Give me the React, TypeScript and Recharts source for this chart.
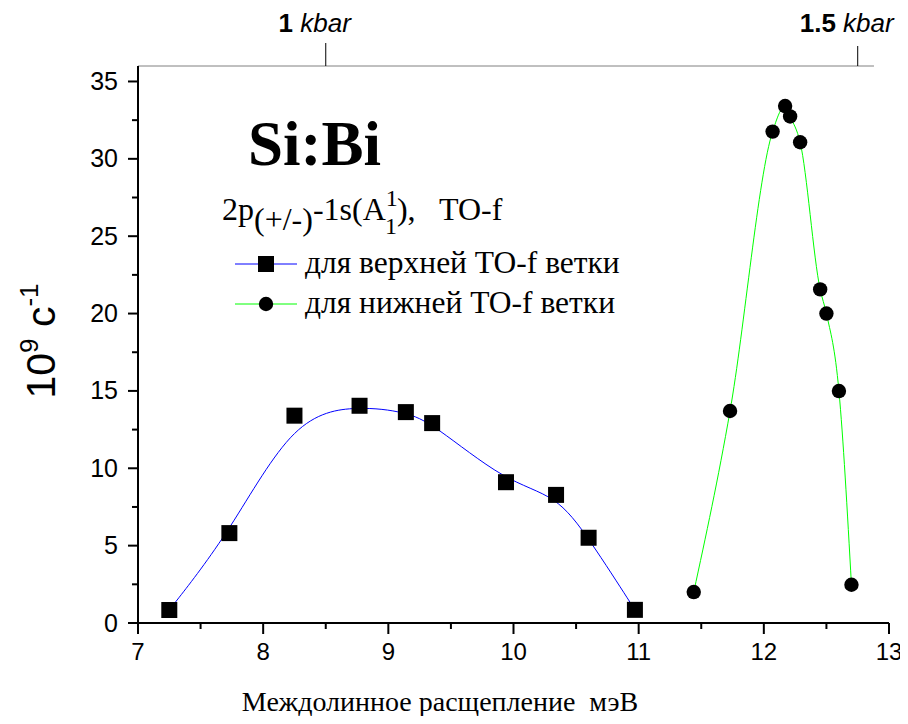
import React from 'react';
import { LineChart, Line, XAxis, YAxis, ReferenceLine } from 'recharts';

// Valley-orbit splitting (meV) and relaxation rate (10^9 s^-1)
const upperSplitting = [7.25, 7.73, 8.25, 8.77, 9.14, 9.35, 9.94, 10.34, 10.6, 10.97];
const upperRate = [0.84, 5.81, 13.4, 14.04, 13.63, 12.92, 9.1, 8.28, 5.51, 0.85];
const lowerSplitting = [11.44, 11.73, 12.07, 12.17, 12.21, 12.29, 12.45, 12.5, 12.6, 12.7];
const lowerRate = [2.0, 13.7, 31.76, 33.41, 32.74, 31.07, 21.56, 20.0, 14.99, 2.47];

const xTicks = [7, 7.5, 8, 8.5, 9, 9.5, 10, 10.5, 11, 11.5, 12, 12.5, 13];
const yTicks = [0, 2.5, 5, 7.5, 10, 12.5, 15, 17.5, 20, 22.5, 25, 27.5, 30, 32.5, 35];
const pressureTicks = [8.5, 12.75];
const pressureLabels = ['1', '1.5'];
const pressureAxisEnd = 12.88;

const upperData = upperSplitting.map((x, i) => ({ x, rate: upperRate[i] }));
const lowerData = lowerSplitting.map((x, i) => ({ x, rate: lowerRate[i] }));

const SANS = '"Liberation Sans", Arial, sans-serif';
const SERIF = '"Liberation Serif", "Times New Roman", serif';

const BottomTick = (props: any) => {
  const { x, y, payload } = props;
  const v = payload.value;
  const major = Number.isInteger(v);
  return (
    <g>
      <line x1={x} y1={y} x2={x} y2={y + (major ? 11 : 6)} stroke="#000" strokeWidth={2} />
      {major && (
        <text x={x} y={y + 37} textAnchor="middle" fontSize={24} fontFamily={SANS} fill="#000">
          {v}
        </text>
      )}
    </g>
  );
};

const LeftTick = (props: any) => {
  const { x, y, payload } = props;
  const v = payload.value;
  const major = Number.isInteger(v) && v % 5 === 0;
  return (
    <g>
      <line x1={x} y1={y} x2={x - (major ? 10 : 6)} y2={y} stroke="#000" strokeWidth={2} />
      {major && (
        <text x={x - 20} y={y + 8.5} textAnchor="end" fontSize={25} fontFamily={SANS} fill="#000">
          {v}
        </text>
      )}
    </g>
  );
};

const TopTick = (props: any) => {
  const { x, y, payload } = props;
  const idx = pressureTicks.indexOf(payload.value);
  const len = idx === 0 ? 23 : 20;
  return (
    <g>
      <line x1={x} y1={y} x2={x} y2={y - len} stroke="#000" strokeWidth={1} />
      <text x={x - 11} y={y - 34} textAnchor="middle" fontSize={26} fontFamily={SANS} fill="#000">
        <tspan fontWeight="bold">{pressureLabels[idx]}</tspan>
        <tspan fontStyle="italic"> kbar</tspan>
      </text>
    </g>
  );
};

const SquareDot = (p: any) => (
  <rect key={`sq-${p.index}`} x={p.cx - 8} y={p.cy - 8} width={16} height={16} fill="#000" />
);

const CircleDot = (p: any) => (
  <circle key={`ci-${p.index}`} cx={p.cx} cy={p.cy} r={7.2} fill="#000" />
);

export default function App() {
  const W = 908;
  const H = 724;
  return (
    <div
      style={{
        position: 'relative',
        width: W,
        height: H,
        marginLeft: -8,
        marginTop: -8,
        marginBottom: -8,
      }}
    >
      <LineChart width={W} height={H} margin={{ top: 0, right: 19, bottom: 0, left: 0 }}>
        <XAxis
          xAxisId="top"
          orientation="top"
          type="number"
          dataKey="x"
          domain={[7, 13]}
          ticks={pressureTicks}
          interval={0}
          tick={<TopTick />}
          tickSize={0}
          tickMargin={0}
          tickLine={false}
          axisLine={false}
          height={66}
          allowDataOverflow
        />
        <XAxis
          type="number"
          dataKey="x"
          domain={[7, 13]}
          ticks={xTicks}
          interval={0}
          tick={<BottomTick />}
          tickSize={0}
          tickMargin={0}
          tickLine={false}
          axisLine={{ stroke: '#000', strokeWidth: 2 }}
          height={101}
          allowDataOverflow
        />
        <YAxis
          type="number"
          domain={[0, 36]}
          ticks={yTicks}
          interval={0}
          tick={<LeftTick />}
          tickSize={0}
          tickMargin={0}
          tickLine={false}
          axisLine={{ stroke: '#000', strokeWidth: 2 }}
          width={138}
          allowDataOverflow
        />
        <ReferenceLine
          segment={[
            { x: 7, y: 36 },
            { x: pressureAxisEnd, y: 36 },
          ]}
          stroke="#808080"
          strokeWidth={1}
        />
        <Line
          data={upperData}
          dataKey="rate"
          type="basis"
          stroke="#0000ff"
          strokeWidth={1}
          dot={SquareDot}
          activeDot={false}
          isAnimationActive={false}
        />
        <Line
          data={lowerData}
          dataKey="rate"
          type="monotoneX"
          stroke="#00ff00"
          strokeWidth={1}
          dot={CircleDot}
          activeDot={false}
          isAnimationActive={false}
        />
      </LineChart>
      <svg
        width={W}
        height={H}
        style={{ position: 'absolute', left: 0, top: 0, pointerEvents: 'none' }}
      >
        <text x={248} y={165} fontFamily={SERIF} fontWeight="bold" fontSize={63} fill="#000">
          Si:Bi
        </text>
        <text x={222} y={220} fontFamily={SERIF} fontSize={32} fill="#000" xmlSpace="preserve">
          2p
          <tspan dy={10}>(+/-)</tspan>
          <tspan dy={-10}>-1s(A</tspan>
          <tspan fontSize={24} dy={-14}>1</tspan>
          <tspan fontSize={24} dx={-12} dy={28}>1</tspan>
          <tspan dy={-14}>{'),   TO-f'}</tspan>
        </text>
        <line x1={235} y1={264} x2={297} y2={264} stroke="#0000ff" strokeWidth={1} />
        <rect x={258} y={256} width={16} height={16} fill="#000" />
        <text x={305} y={273} fontFamily={SERIF} fontSize={31.5} fill="#000">
          для верхней TO-f ветки
        </text>
        <line x1={235} y1={304} x2={297} y2={304} stroke="#00ff00" strokeWidth={1} />
        <circle cx={266} cy={304} r={7.2} fill="#000" />
        <text x={305} y={313} fontFamily={SERIF} fontSize={31.5} fill="#000">
          для нижней TO-f ветки
        </text>
        <text
          transform="translate(55 341) rotate(-90)"
          textAnchor="middle"
          fontFamily={SANS}
          fontSize={41}
          fill="#000"
        >
          10
          <tspan fontSize={26} dy={-17}>9</tspan>
          <tspan dy={17}> с</tspan>
          <tspan fontSize={26} dy={-17}>-1</tspan>
        </text>
        <text x={440} y={711} textAnchor="middle" fontFamily={SERIF} fontSize={28} fill="#000" xmlSpace="preserve">
          {'Междолинное расщепление  мэВ'}
        </text>
      </svg>
    </div>
  );
}
